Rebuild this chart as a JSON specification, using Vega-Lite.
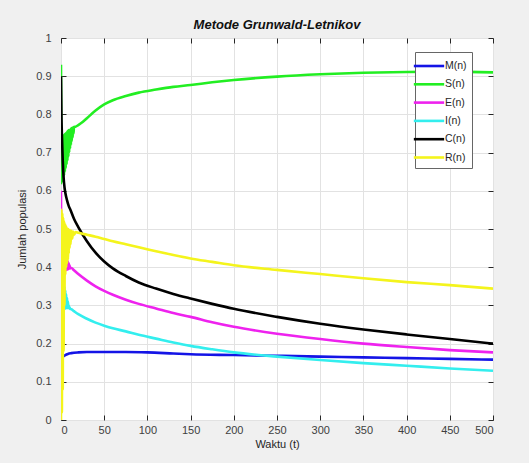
{
  "$schema": "https://vega.github.io/schema/vega-lite/v6.json",
  "width": 432,
  "height": 382,
  "autosize": {"type": "none"},
  "padding": {"left": 61, "top": 38, "right": 36, "bottom": 43},
  "background": "#f0f0f0",
  "config": {
    "view": {"fill": "white", "stroke": "#262626", "strokeWidth": 1},
    "font": "Liberation Sans",
    "axis": {"labelFont": "Liberation Sans", "titleFont": "Liberation Sans", "labelColor": "#404040", "titleColor": "#262626", "labelFontSize": 11, "titleFontSize": 11, "titleFontWeight": "normal", "gridColor": "#e2e2e2", "gridWidth": 1, "tickColor": "#262626", "domain": false}
  },
  "title": {"text": "Metode Grunwald-Letnikov", "fontSize": 13, "fontWeight": "bold", "fontStyle": "italic", "font": "Liberation Sans", "color": "#111111", "offset": 0, "dy": 0, "anchor": "middle"},
  "datasets": {
    "pts": [
      {"s":"M(n)","t":0,"v":0.155},{"s":"M(n)","t":1,"v":0.162},{"s":"M(n)","t":2,"v":0.165},{"s":"M(n)","t":3,"v":0.167},{"s":"M(n)","t":5,"v":0.17},{"s":"M(n)","t":8,"v":0.173},{"s":"M(n)","t":12,"v":0.175},{"s":"M(n)","t":20,"v":0.177},{"s":"M(n)","t":30,"v":0.178},{"s":"M(n)","t":50,"v":0.178},{"s":"M(n)","t":75,"v":0.178},{"s":"M(n)","t":100,"v":0.177},{"s":"M(n)","t":130,"v":0.174},{"s":"M(n)","t":150,"v":0.172},{"s":"M(n)","t":200,"v":0.17},{"s":"M(n)","t":250,"v":0.168},{"s":"M(n)","t":300,"v":0.166},{"s":"M(n)","t":350,"v":0.164},{"s":"M(n)","t":400,"v":0.162},{"s":"M(n)","t":450,"v":0.16},{"s":"M(n)","t":500,"v":0.158},

      {"s":"S(n)","t":0,"v":0.93},{"s":"S(n)","t":0.5,"v":0.62},{"s":"S(n)","t":1,"v":0.74},{"s":"S(n)","t":1.5,"v":0.625},{"s":"S(n)","t":2,"v":0.742},{"s":"S(n)","t":2.5,"v":0.63},{"s":"S(n)","t":3,"v":0.745},{"s":"S(n)","t":3.5,"v":0.64},{"s":"S(n)","t":4,"v":0.748},{"s":"S(n)","t":4.5,"v":0.65},{"s":"S(n)","t":5,"v":0.75},{"s":"S(n)","t":5.5,"v":0.66},{"s":"S(n)","t":6,"v":0.752},{"s":"S(n)","t":6.5,"v":0.67},{"s":"S(n)","t":7,"v":0.755},{"s":"S(n)","t":7.5,"v":0.68},{"s":"S(n)","t":8,"v":0.757},{"s":"S(n)","t":8.5,"v":0.69},{"s":"S(n)","t":9,"v":0.759},{"s":"S(n)","t":9.5,"v":0.7},{"s":"S(n)","t":10,"v":0.76},{"s":"S(n)","t":10.5,"v":0.71},{"s":"S(n)","t":11,"v":0.762},{"s":"S(n)","t":11.5,"v":0.72},{"s":"S(n)","t":12,"v":0.764},{"s":"S(n)","t":12.5,"v":0.73},{"s":"S(n)","t":13,"v":0.765},{"s":"S(n)","t":13.5,"v":0.74},{"s":"S(n)","t":14,"v":0.766},{"s":"S(n)","t":14.5,"v":0.75},{"s":"S(n)","t":15,"v":0.767},{"s":"S(n)","t":17,"v":0.768},{"s":"S(n)","t":20,"v":0.772},{"s":"S(n)","t":25,"v":0.78},{"s":"S(n)","t":30,"v":0.79},{"s":"S(n)","t":40,"v":0.81},{"s":"S(n)","t":50,"v":0.826},{"s":"S(n)","t":60,"v":0.837},{"s":"S(n)","t":75,"v":0.848},{"s":"S(n)","t":90,"v":0.857},{"s":"S(n)","t":110,"v":0.865},{"s":"S(n)","t":130,"v":0.872},{"s":"S(n)","t":150,"v":0.877},{"s":"S(n)","t":175,"v":0.884},{"s":"S(n)","t":200,"v":0.89},{"s":"S(n)","t":250,"v":0.899},{"s":"S(n)","t":300,"v":0.905},{"s":"S(n)","t":350,"v":0.909},{"s":"S(n)","t":400,"v":0.911},{"s":"S(n)","t":450,"v":0.912},{"s":"S(n)","t":500,"v":0.91},

      {"s":"E(n)","t":0,"v":0.6},{"s":"E(n)","t":0.5,"v":0.41},{"s":"E(n)","t":1,"v":0.42},{"s":"E(n)","t":1.5,"v":0.385},{"s":"E(n)","t":2,"v":0.43},{"s":"E(n)","t":2.5,"v":0.387},{"s":"E(n)","t":3,"v":0.435},{"s":"E(n)","t":3.5,"v":0.388},{"s":"E(n)","t":4,"v":0.435},{"s":"E(n)","t":4.5,"v":0.39},{"s":"E(n)","t":5,"v":0.43},{"s":"E(n)","t":5.5,"v":0.392},{"s":"E(n)","t":6,"v":0.425},{"s":"E(n)","t":6.5,"v":0.393},{"s":"E(n)","t":7,"v":0.42},{"s":"E(n)","t":7.5,"v":0.394},{"s":"E(n)","t":8,"v":0.415},{"s":"E(n)","t":8.5,"v":0.395},{"s":"E(n)","t":9,"v":0.41},{"s":"E(n)","t":9.5,"v":0.396},{"s":"E(n)","t":10,"v":0.405},{"s":"E(n)","t":10.5,"v":0.397},{"s":"E(n)","t":12,"v":0.398},{"s":"E(n)","t":15,"v":0.392},{"s":"E(n)","t":20,"v":0.382},{"s":"E(n)","t":30,"v":0.365},{"s":"E(n)","t":40,"v":0.35},{"s":"E(n)","t":50,"v":0.338},{"s":"E(n)","t":60,"v":0.328},{"s":"E(n)","t":75,"v":0.315},{"s":"E(n)","t":90,"v":0.304},{"s":"E(n)","t":110,"v":0.292},{"s":"E(n)","t":130,"v":0.28},{"s":"E(n)","t":150,"v":0.27},{"s":"E(n)","t":175,"v":0.256},{"s":"E(n)","t":200,"v":0.244},{"s":"E(n)","t":250,"v":0.226},{"s":"E(n)","t":300,"v":0.212},{"s":"E(n)","t":350,"v":0.2},{"s":"E(n)","t":400,"v":0.191},{"s":"E(n)","t":450,"v":0.183},{"s":"E(n)","t":500,"v":0.177},

      {"s":"I(n)","t":0,"v":0.3},{"s":"I(n)","t":0.5,"v":0.28},{"s":"I(n)","t":1,"v":0.33},{"s":"I(n)","t":1.5,"v":0.285},{"s":"I(n)","t":2,"v":0.35},{"s":"I(n)","t":2.5,"v":0.287},{"s":"I(n)","t":3,"v":0.355},{"s":"I(n)","t":3.5,"v":0.29},{"s":"I(n)","t":4,"v":0.35},{"s":"I(n)","t":4.5,"v":0.291},{"s":"I(n)","t":5,"v":0.34},{"s":"I(n)","t":5.5,"v":0.292},{"s":"I(n)","t":6,"v":0.33},{"s":"I(n)","t":6.5,"v":0.293},{"s":"I(n)","t":7,"v":0.32},{"s":"I(n)","t":7.5,"v":0.293},{"s":"I(n)","t":8,"v":0.31},{"s":"I(n)","t":8.5,"v":0.293},{"s":"I(n)","t":9,"v":0.3},{"s":"I(n)","t":9.5,"v":0.292},{"s":"I(n)","t":10,"v":0.295},{"s":"I(n)","t":10.5,"v":0.291},{"s":"I(n)","t":12,"v":0.29},{"s":"I(n)","t":15,"v":0.285},{"s":"I(n)","t":20,"v":0.277},{"s":"I(n)","t":30,"v":0.265},{"s":"I(n)","t":40,"v":0.255},{"s":"I(n)","t":50,"v":0.247},{"s":"I(n)","t":60,"v":0.24},{"s":"I(n)","t":75,"v":0.232},{"s":"I(n)","t":90,"v":0.223},{"s":"I(n)","t":110,"v":0.213},{"s":"I(n)","t":130,"v":0.203},{"s":"I(n)","t":150,"v":0.194},{"s":"I(n)","t":175,"v":0.185},{"s":"I(n)","t":200,"v":0.177},{"s":"I(n)","t":250,"v":0.166},{"s":"I(n)","t":300,"v":0.157},{"s":"I(n)","t":350,"v":0.149},{"s":"I(n)","t":400,"v":0.142},{"s":"I(n)","t":450,"v":0.135},{"s":"I(n)","t":500,"v":0.129},

      {"s":"C(n)","t":0,"v":0.9},{"s":"C(n)","t":0.5,"v":0.8},{"s":"C(n)","t":1,"v":0.75},{"s":"C(n)","t":2,"v":0.68},{"s":"C(n)","t":3,"v":0.635},{"s":"C(n)","t":4,"v":0.61},{"s":"C(n)","t":5,"v":0.595},{"s":"C(n)","t":7,"v":0.575},{"s":"C(n)","t":9,"v":0.56},{"s":"C(n)","t":11,"v":0.55},{"s":"C(n)","t":15,"v":0.527},{"s":"C(n)","t":20,"v":0.505},{"s":"C(n)","t":30,"v":0.468},{"s":"C(n)","t":40,"v":0.438},{"s":"C(n)","t":50,"v":0.415},{"s":"C(n)","t":60,"v":0.397},{"s":"C(n)","t":75,"v":0.377},{"s":"C(n)","t":90,"v":0.36},{"s":"C(n)","t":110,"v":0.344},{"s":"C(n)","t":130,"v":0.33},{"s":"C(n)","t":150,"v":0.318},{"s":"C(n)","t":175,"v":0.304},{"s":"C(n)","t":200,"v":0.291},{"s":"C(n)","t":250,"v":0.27},{"s":"C(n)","t":300,"v":0.252},{"s":"C(n)","t":350,"v":0.237},{"s":"C(n)","t":400,"v":0.224},{"s":"C(n)","t":450,"v":0.212},{"s":"C(n)","t":500,"v":0.2},

      {"s":"R(n)","t":0,"v":0},{"s":"R(n)","t":0.5,"v":0.55},{"s":"R(n)","t":1,"v":0.02},{"s":"R(n)","t":1.5,"v":0.54},{"s":"R(n)","t":2,"v":0.08},{"s":"R(n)","t":2.5,"v":0.53},{"s":"R(n)","t":3,"v":0.18},{"s":"R(n)","t":3.5,"v":0.52},{"s":"R(n)","t":4,"v":0.3},{"s":"R(n)","t":4.5,"v":0.515},{"s":"R(n)","t":5,"v":0.38},{"s":"R(n)","t":5.5,"v":0.51},{"s":"R(n)","t":6,"v":0.4},{"s":"R(n)","t":6.5,"v":0.505},{"s":"R(n)","t":7,"v":0.41},{"s":"R(n)","t":7.5,"v":0.5},{"s":"R(n)","t":8,"v":0.42},{"s":"R(n)","t":8.5,"v":0.5},{"s":"R(n)","t":9,"v":0.435},{"s":"R(n)","t":9.5,"v":0.498},{"s":"R(n)","t":10,"v":0.45},{"s":"R(n)","t":10.5,"v":0.497},{"s":"R(n)","t":11,"v":0.46},{"s":"R(n)","t":12,"v":0.495},{"s":"R(n)","t":13,"v":0.475},{"s":"R(n)","t":14,"v":0.493},{"s":"R(n)","t":15,"v":0.485},{"s":"R(n)","t":17,"v":0.492},{"s":"R(n)","t":20,"v":0.49},{"s":"R(n)","t":30,"v":0.485},{"s":"R(n)","t":40,"v":0.48},{"s":"R(n)","t":50,"v":0.474},{"s":"R(n)","t":60,"v":0.468},{"s":"R(n)","t":75,"v":0.46},{"s":"R(n)","t":90,"v":0.452},{"s":"R(n)","t":110,"v":0.442},{"s":"R(n)","t":130,"v":0.432},{"s":"R(n)","t":150,"v":0.423},{"s":"R(n)","t":175,"v":0.414},{"s":"R(n)","t":200,"v":0.405},{"s":"R(n)","t":250,"v":0.393},{"s":"R(n)","t":300,"v":0.382},{"s":"R(n)","t":350,"v":0.371},{"s":"R(n)","t":400,"v":0.361},{"s":"R(n)","t":450,"v":0.353},{"s":"R(n)","t":500,"v":0.344}
    ]
  },
  "data": {"name": "pts"},
  "layer": [
    {
      "mark": {"type": "line", "strokeWidth": 2.6, "clip": true, "interpolate": "monotone"},
      "encoding": {
        "x": {"field": "t", "type": "quantitative", "scale": {"domain": [0, 500], "nice": false, "zero": false},
              "axis": {"orient": "bottom", "title": "Waktu (t)", "values": [0,50,100,150,200,250,300,350,400,450,500], "tickSize": -5, "labelPadding": 9, "titlePadding": 3, "grid": true}},
        "y": {"field": "v", "type": "quantitative", "scale": {"domain": [0, 1], "nice": false},
              "axis": {"orient": "left", "title": "Jumlah populasi", "values": [0,0.1,0.2,0.3,0.4,0.5,0.6,0.7,0.8,0.9,1], "format": "~g", "tickSize": -5, "labelPadding": 15, "titlePadding": 8, "grid": true}},
        "color": {"field": "s", "type": "nominal",
                  "scale": {"domain": ["M(n)","S(n)","E(n)","I(n)","C(n)","R(n)"], "range": ["#1414e6","#22ee22","#ee22ee","#33eeee","#000000","#f4f41c"]},
                  "legend": {"title": null, "orient": "none", "legendX": 354, "legendY": 14, "symbolType": "M-2,0H2", "symbolSize": 230, "symbolStrokeWidth": 2.6, "labelFontSize": 10.5, "labelFont": "Liberation Sans", "labelColor": "#262626", "fillColor": "white", "strokeColor": "#666666", "padding": 5, "rowPadding": 3.3, "labelOffset": 7}}
      }
    },
    {
      "mark": {"type": "point", "opacity": 0},
      "encoding": {
        "x": {"field": "t", "type": "quantitative", "axis": {"orient": "top", "title": null, "labels": false, "grid": false, "values": [0,50,100,150,200,250,300,350,400,450,500], "tickSize": -5}},
        "y": {"field": "v", "type": "quantitative", "axis": {"orient": "right", "title": null, "labels": false, "grid": false, "values": [0,0.1,0.2,0.3,0.4,0.5,0.6,0.7,0.8,0.9,1], "tickSize": -5}}
      }
    }
  ],
  "resolve": {"axis": {"x": "independent", "y": "independent"}}
}
